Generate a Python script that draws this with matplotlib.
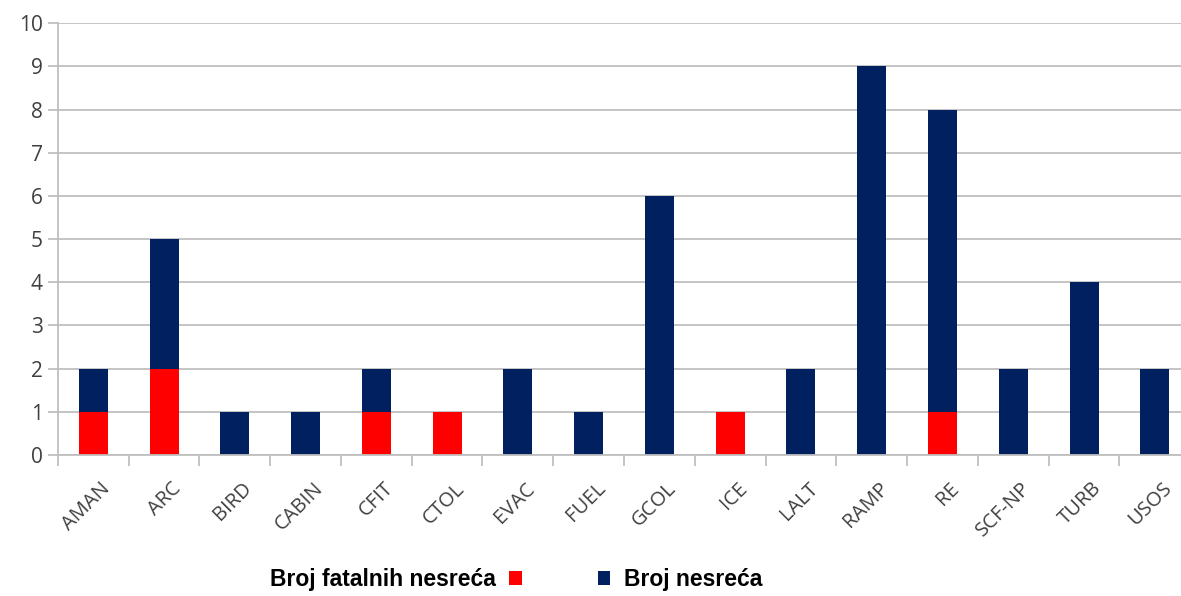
import matplotlib.pyplot as plt
import numpy as np

categories = ['AMAN', 'ARC', 'BIRD', 'CABIN', 'CFIT', 'CTOL', 'EVAC', 'FUEL',
              'GCOL', 'ICE', 'LALT', 'RAMP', 'RE', 'SCF-NP', 'TURB', 'USOS']
broj_nesreca = [2, 5, 1, 1, 2, 1, 2, 1, 6, 1, 2, 9, 8, 2, 4, 2]
broj_fatalnih = [1, 2, 0, 0, 1, 1, 0, 0, 0, 1, 0, 0, 1, 0, 0, 0]

navy = '#002060'
red = '#ff0000'
grid_c = '#bfbfbf'
txt_c = '#404040'

fig = plt.figure(figsize=(11.81, 5.96), dpi=100)
ax = fig.add_axes([0.049, 0.2366, 0.951, 0.7244])

x = np.arange(len(categories))
ax.bar(x, broj_nesreca, width=0.41, color=navy, zorder=3, label='Broj nesreća')
ax.bar(x, broj_fatalnih, width=0.41, color=red, zorder=4, label='Broj fatalnih nesreća')

ax.set_xlim(-0.5, 15.37)
ax.set_ylim(0, 10)
ax.set_yticks(range(0, 11))
ax.yaxis.grid(True, color=grid_c, linewidth=1.3, zorder=0)
ax.tick_params(axis='y', length=7, width=1.3, color=grid_c, labelsize=15,
               labelcolor=txt_c, pad=4)
for lbl in ax.get_yticklabels():
    lbl.set_family('Open Sans')

# category boundaries carry the tick marks, labels sit under the bars
ax.set_xticks(np.arange(-0.5, len(categories) - 0.5, 1.0))
ax.set_xticklabels([])
ax.set_xticks(x + 0.1, minor=True)
ax.set_xticklabels(categories, minor=True, rotation=45, ha='right',
                   rotation_mode='anchor', fontsize=14.5, color=txt_c,
                   family='Open Sans')
ax.tick_params(axis='x', which='major', length=8, width=1.3, color=grid_c)
ax.tick_params(axis='x', which='minor', length=0, pad=17)

for s in ['top', 'right']:
    ax.spines[s].set_visible(False)
for s in ['left', 'bottom']:
    ax.spines[s].set_color(grid_c)
    ax.spines[s].set_linewidth(1.3)
ax.spines['bottom'].set_zorder(5)

h, l = ax.get_legend_handles_labels()
font = {'family': 'Liberation Sans', 'weight': 'bold', 'size': 16.5}
leg1 = fig.legend([h[1]], [l[1]], loc='center', bbox_to_anchor=(0.335, 0.027),
                  frameon=False, markerfirst=False, handlelength=0.55,
                  handleheight=0.55, handletextpad=0.6, prop=font)
leg2 = fig.legend([h[0]], [l[0]], loc='center', bbox_to_anchor=(0.576, 0.027),
                  frameon=False, handlelength=0.55, handleheight=0.55,
                  handletextpad=0.6, prop=font)

fig.savefig('out.png', dpi=100)
